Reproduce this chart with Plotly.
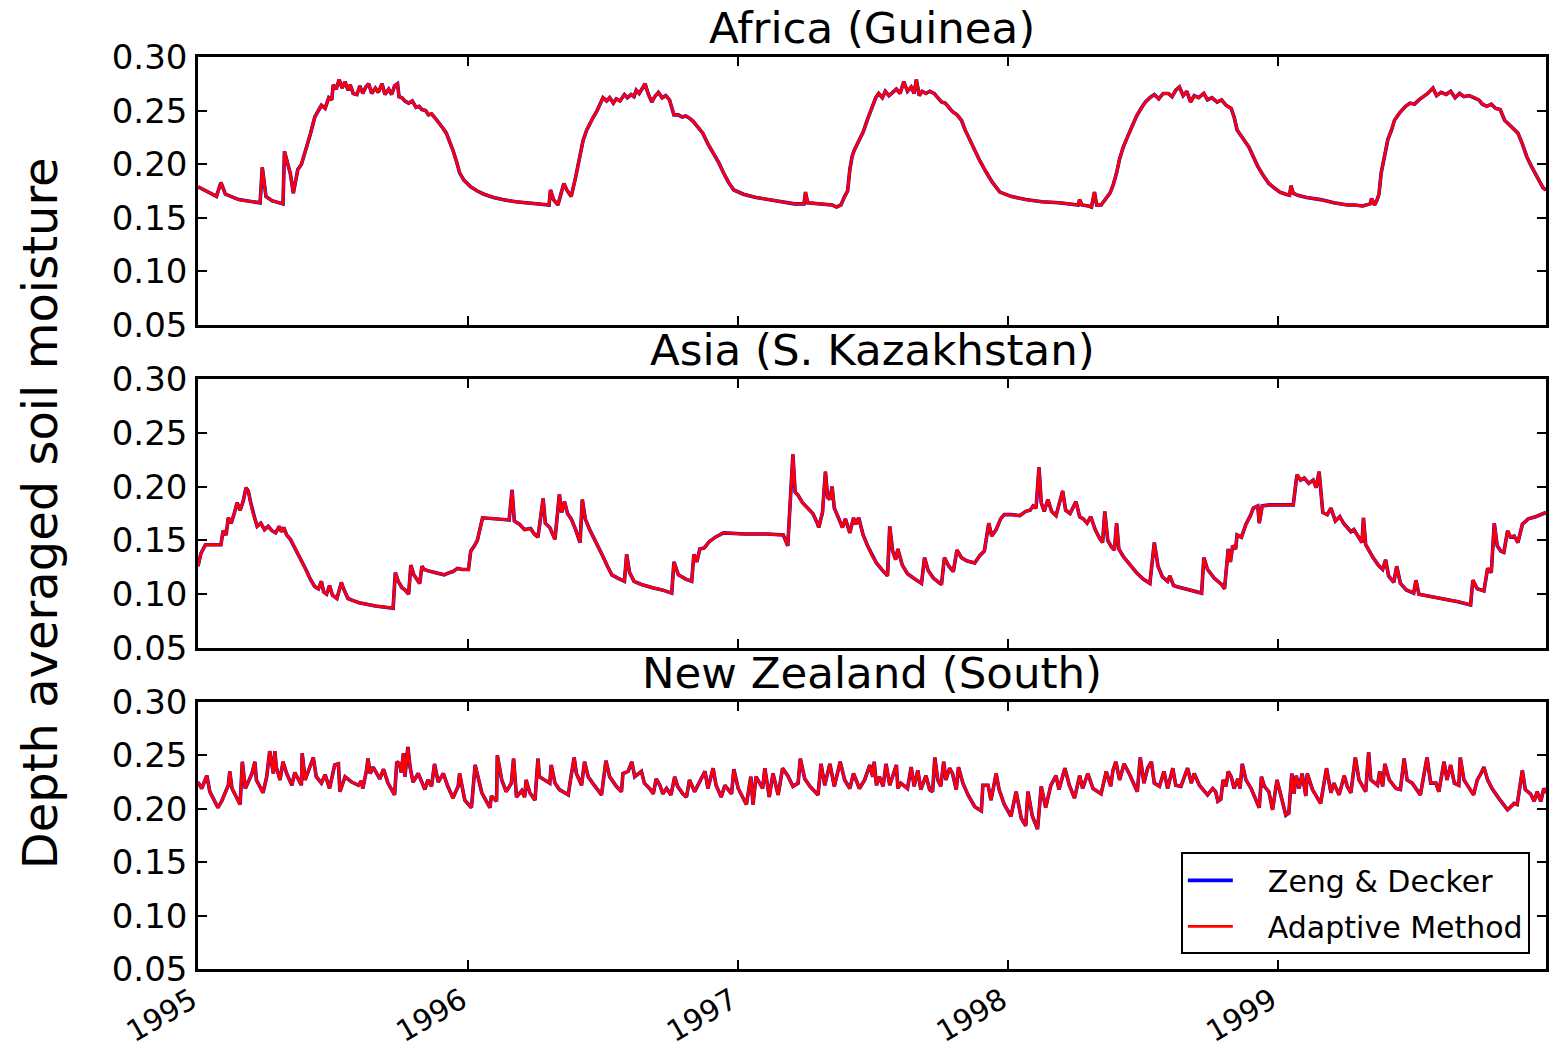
import pandas as pd
import plotly.graph_objects as go
from plotly.subplots import make_subplots

# Day offsets from 1995-01-01 and depth averaged soil moisture for each region
AFRICA_DAY = [0, 12, 25, 31, 37, 55, 84, 87, 92, 100, 115, 117, 121, 125, 129, 135, 140, 146, 152, 158,
              163, 167, 172, 177, 181, 183, 187, 191, 195, 199, 203, 206, 210, 215, 219, 223, 227, 231, 235, 240,
              244, 249, 253, 258, 262, 266, 270, 272, 276, 280, 285, 290, 295, 299, 303, 308, 312, 316, 321, 326,
              331, 336, 340, 345, 350, 354, 360, 369, 378, 387, 400, 412, 430, 448, 465, 475, 477, 481, 487, 495,
              499, 505, 511, 517, 521, 526, 530, 535, 540, 544, 548, 553, 557, 562, 566, 571, 577, 581, 586, 590,
              593, 597, 601, 605, 609, 612, 614, 618, 623, 628, 633, 638, 641, 644, 650, 655, 660, 665, 670, 675,
              680, 683, 690, 698, 705, 711, 718, 725, 731, 738, 755, 774, 790, 807, 820, 822, 825, 840, 850, 858,
              864, 870, 875, 879, 882, 885, 888, 894, 900, 906, 912, 917, 921, 926, 930, 935, 940, 945, 950, 955,
              960, 965, 969, 972, 976, 980, 985, 990, 996, 1000, 1006, 1011, 1016, 1021, 1027, 1033, 1038, 1044, 1051, 1058,
              1067, 1075, 1085, 1092, 1100, 1120, 1142, 1165, 1191, 1193, 1196, 1205, 1209, 1213, 1216, 1222, 1228, 1234, 1238, 1243,
              1247, 1252, 1258, 1264, 1270, 1276, 1282, 1288, 1294, 1300, 1306, 1313, 1318, 1323, 1328, 1333, 1338, 1343, 1348, 1354,
              1361, 1366, 1372, 1379, 1385, 1391, 1398, 1402, 1406, 1414, 1422, 1428, 1434, 1441, 1449, 1456, 1464, 1472, 1477, 1479,
              1482, 1488, 1500, 1519, 1537, 1555, 1565, 1576, 1586, 1588, 1592, 1595, 1598, 1601, 1605, 1610, 1615, 1619, 1626, 1634,
              1640, 1646, 1652, 1658, 1664, 1671, 1676, 1682, 1689, 1695, 1701, 1707, 1713, 1720, 1728, 1733, 1738, 1744, 1750, 1756,
              1762, 1768, 1774, 1780, 1786, 1792, 1798, 1805, 1812, 1820, 1824]
AFRICA_SM = [0.179, 0.175, 0.170, 0.183, 0.172, 0.167, 0.164, 0.197, 0.170, 0.166, 0.163, 0.212, 0.200, 0.191, 0.173, 0.195, 0.200, 0.213, 0.228, 0.244,
             0.250, 0.255, 0.252, 0.262, 0.260, 0.274, 0.270, 0.279, 0.271, 0.277, 0.269, 0.274, 0.266, 0.265, 0.273, 0.266, 0.272, 0.275, 0.266, 0.271,
             0.267, 0.275, 0.265, 0.270, 0.265, 0.273, 0.275, 0.263, 0.262, 0.259, 0.257, 0.259, 0.253, 0.254, 0.251, 0.250, 0.246, 0.247, 0.243, 0.239,
             0.234, 0.229, 0.222, 0.213, 0.202, 0.192, 0.185, 0.179, 0.175, 0.172, 0.169, 0.167, 0.165, 0.164, 0.163, 0.162, 0.176, 0.167, 0.162, 0.182,
             0.176, 0.170, 0.188, 0.207, 0.222, 0.232, 0.238, 0.244, 0.250, 0.256, 0.262, 0.259, 0.262, 0.257, 0.261, 0.259, 0.265, 0.262, 0.265, 0.263,
             0.269, 0.266, 0.270, 0.275, 0.266, 0.262, 0.258, 0.263, 0.267, 0.262, 0.264, 0.260, 0.252, 0.246, 0.246, 0.244, 0.245, 0.243, 0.240, 0.236,
             0.232, 0.229, 0.219, 0.210, 0.201, 0.192, 0.183, 0.176, 0.174, 0.172, 0.169, 0.167, 0.165, 0.163, 0.163, 0.174, 0.164, 0.163, 0.162, 0.162,
             0.160, 0.162, 0.170, 0.175, 0.195, 0.207, 0.213, 0.222, 0.230, 0.242, 0.254, 0.262, 0.266, 0.262, 0.268, 0.264, 0.267, 0.270, 0.266, 0.277,
             0.268, 0.272, 0.266, 0.279, 0.264, 0.268, 0.266, 0.268, 0.266, 0.263, 0.258, 0.257, 0.253, 0.249, 0.246, 0.241, 0.232, 0.223, 0.213, 0.203,
             0.192, 0.183, 0.174, 0.172, 0.170, 0.167, 0.165, 0.164, 0.162, 0.167, 0.162, 0.161, 0.160, 0.174, 0.162, 0.162, 0.167, 0.173, 0.180, 0.192,
             0.205, 0.216, 0.226, 0.235, 0.245, 0.252, 0.258, 0.262, 0.265, 0.261, 0.266, 0.266, 0.263, 0.269, 0.272, 0.264, 0.268, 0.258, 0.264, 0.262,
             0.266, 0.260, 0.262, 0.258, 0.260, 0.255, 0.252, 0.244, 0.232, 0.224, 0.216, 0.207, 0.198, 0.190, 0.182, 0.178, 0.174, 0.172, 0.171, 0.180,
             0.173, 0.171, 0.169, 0.167, 0.164, 0.162, 0.162, 0.161, 0.163, 0.168, 0.162, 0.166, 0.172, 0.192, 0.205, 0.223, 0.232, 0.241, 0.248, 0.254,
             0.257, 0.256, 0.260, 0.263, 0.266, 0.271, 0.264, 0.267, 0.265, 0.268, 0.262, 0.266, 0.263, 0.264, 0.262, 0.260, 0.256, 0.254, 0.256, 0.252,
             0.251, 0.241, 0.237, 0.233, 0.229, 0.219, 0.207, 0.197, 0.188, 0.178, 0.176]

ASIA_DAY = [0, 4, 10, 31, 34, 38, 41, 45, 49, 53, 57, 61, 65, 68, 71, 74, 77, 80, 85, 90,
            95, 100, 105, 110, 113, 116, 120, 125, 132, 139, 146, 152, 158, 163, 167, 170, 174, 178, 182, 188,
            194, 197, 203, 210, 218, 240, 264, 267, 271, 276, 280, 285, 288, 292, 296, 300, 303, 306, 315, 325,
            333, 340, 345, 351, 358, 366, 369, 374, 378, 385, 400, 421, 425, 428, 435, 442, 450, 455, 460, 467,
            470, 476, 483, 489, 492, 496, 500, 505, 511, 517, 520, 524, 530, 536, 541, 548, 554, 560, 568, 577,
            580, 584, 590, 600, 615, 628, 641, 644, 650, 660, 668, 671, 675, 679, 685, 692, 700, 711, 740, 770,
            792, 798, 805, 808, 812, 818, 825, 832, 838, 840, 845, 849, 852, 855, 858, 861, 866, 872, 876, 882,
            887, 890, 894, 900, 906, 912, 918, 925, 933, 936, 940, 944, 947, 953, 960, 968, 979, 983, 988, 995,
            1006, 1010, 1016, 1022, 1027, 1033, 1040, 1046, 1051, 1058, 1064, 1070, 1074, 1080, 1086, 1091, 1100, 1112, 1120, 1126,
            1130, 1134, 1138, 1141, 1145, 1150, 1155, 1161, 1170, 1174, 1180, 1188, 1193, 1198, 1203, 1208, 1214, 1220, 1224, 1227,
            1231, 1236, 1240, 1243, 1246, 1252, 1260, 1265, 1270, 1279, 1288, 1294, 1299, 1305, 1312, 1315, 1320, 1325, 1340, 1358,
            1361, 1366, 1375, 1385, 1389, 1394, 1397, 1400, 1404, 1406, 1412, 1418, 1424, 1428, 1434, 1436, 1440, 1450, 1465, 1482,
            1487, 1492, 1497, 1503, 1509, 1513, 1517, 1522, 1528, 1533, 1539, 1545, 1550, 1555, 1560, 1564, 1570, 1575, 1577, 1580,
            1590, 1597, 1603, 1607, 1611, 1618, 1622, 1627, 1635, 1645, 1648, 1652, 1659, 1675, 1689, 1705, 1722, 1725, 1731, 1740,
            1745, 1750, 1754, 1758, 1763, 1767, 1772, 1776, 1781, 1786, 1792, 1800, 1810, 1820, 1824]
ASIA_SM = [0.126, 0.138, 0.146, 0.146, 0.159, 0.155, 0.171, 0.166, 0.175, 0.185, 0.178, 0.186, 0.199, 0.196, 0.186, 0.176, 0.170, 0.163, 0.166, 0.160,
           0.163, 0.159, 0.157, 0.163, 0.158, 0.162, 0.155, 0.151, 0.142, 0.132, 0.123, 0.114, 0.107, 0.105, 0.112, 0.102, 0.100, 0.108, 0.099, 0.096,
           0.111, 0.105, 0.096, 0.094, 0.092, 0.089, 0.087, 0.120, 0.112, 0.106, 0.104, 0.100, 0.127, 0.118, 0.114, 0.110, 0.126, 0.123, 0.121, 0.119,
           0.118, 0.120, 0.121, 0.124, 0.123, 0.123, 0.140, 0.145, 0.150, 0.171, 0.170, 0.169, 0.197, 0.168, 0.165, 0.160, 0.161, 0.156, 0.153, 0.189,
           0.166, 0.162, 0.151, 0.193, 0.176, 0.186, 0.175, 0.170, 0.160, 0.148, 0.188, 0.170, 0.160, 0.152, 0.145, 0.135, 0.126, 0.118, 0.115, 0.112,
           0.137, 0.120, 0.112, 0.109, 0.106, 0.104, 0.101, 0.130, 0.118, 0.114, 0.112, 0.137, 0.130, 0.142, 0.143, 0.149, 0.153, 0.157, 0.156, 0.156,
           0.155, 0.145, 0.230, 0.195, 0.192, 0.185, 0.180, 0.175, 0.166, 0.162, 0.176, 0.214, 0.190, 0.188, 0.200, 0.180, 0.172, 0.162, 0.170, 0.157,
           0.171, 0.165, 0.171, 0.155, 0.145, 0.136, 0.129, 0.123, 0.117, 0.163, 0.140, 0.132, 0.142, 0.127, 0.119, 0.115, 0.110, 0.134, 0.122, 0.115,
           0.109, 0.134, 0.126, 0.121, 0.141, 0.134, 0.131, 0.130, 0.129, 0.136, 0.140, 0.166, 0.154, 0.160, 0.170, 0.174, 0.174, 0.173, 0.177, 0.178,
           0.182, 0.180, 0.218, 0.185, 0.177, 0.188, 0.177, 0.173, 0.196, 0.178, 0.175, 0.186, 0.172, 0.170, 0.166, 0.172, 0.160, 0.152, 0.148, 0.177,
           0.150, 0.144, 0.141, 0.166, 0.142, 0.135, 0.128, 0.124, 0.120, 0.114, 0.110, 0.148, 0.126, 0.116, 0.112, 0.117, 0.108, 0.107, 0.104, 0.101,
           0.134, 0.123, 0.115, 0.109, 0.105, 0.142, 0.130, 0.145, 0.142, 0.155, 0.153, 0.165, 0.173, 0.180, 0.182, 0.166, 0.182, 0.183, 0.183, 0.183,
           0.211, 0.206, 0.208, 0.203, 0.206, 0.199, 0.214, 0.176, 0.174, 0.180, 0.168, 0.172, 0.166, 0.162, 0.158, 0.160, 0.153, 0.148, 0.171, 0.146,
           0.134, 0.127, 0.123, 0.132, 0.117, 0.111, 0.126, 0.110, 0.104, 0.101, 0.113, 0.100, 0.099, 0.097, 0.095, 0.093, 0.090, 0.113, 0.105, 0.103,
           0.124, 0.120, 0.166, 0.145, 0.140, 0.139, 0.159, 0.153, 0.154, 0.148, 0.165, 0.170, 0.172, 0.175, 0.176]

NZ_DAY = [0, 5, 12, 16, 27, 32, 41, 43, 46, 57, 60, 64, 73, 77, 79, 88, 93, 97, 102, 104,
          106, 111, 115, 120, 127, 131, 140, 141, 145, 151, 156, 160, 167, 172, 178, 185, 190, 192, 199, 208,
          217, 221, 223, 228, 230, 233, 237, 242, 246, 251, 257, 266, 269, 273, 275, 278, 280, 284, 287, 291,
          298, 307, 311, 316, 320, 325, 332, 338, 345, 352, 354, 361, 370, 375, 384, 395, 397, 404, 405, 411,
          417, 424, 427, 431, 438, 442, 444, 449, 456, 460, 462, 469, 476, 478, 483, 489, 501, 504, 509, 512,
          519, 523, 528, 534, 546, 552, 557, 566, 573, 575, 582, 587, 591, 600, 604, 611, 616, 620, 625, 629,
          634, 640, 645, 649, 656, 661, 665, 672, 679, 686, 690, 697, 701, 708, 713, 722, 725, 731, 742, 748,
          751, 755, 764, 767, 773, 778, 785, 791, 798, 805, 812, 815, 821, 828, 839, 843, 848, 855, 861, 869,
          875, 882, 887, 895, 902, 909, 913, 915, 918, 922, 927, 931, 936, 940, 945, 947, 951, 960, 965, 969,
          974, 978, 985, 990, 994, 997, 1001, 1005, 1009, 1012, 1017, 1021, 1026, 1029, 1035, 1042, 1051, 1060, 1062, 1069,
          1073, 1080, 1084, 1091, 1100, 1107, 1114, 1120, 1123, 1129, 1136, 1141, 1147, 1154, 1161, 1165, 1173, 1179, 1186, 1193,
          1197, 1204, 1211, 1222, 1229, 1235, 1238, 1242, 1247, 1253, 1260, 1271, 1275, 1280, 1285, 1290, 1294, 1301, 1307, 1312,
          1319, 1323, 1330, 1339, 1344, 1348, 1355, 1366, 1373, 1377, 1380, 1384, 1387, 1391, 1394, 1398, 1402, 1407, 1410, 1413,
          1418, 1425, 1436, 1439, 1443, 1449, 1454, 1460, 1465, 1472, 1476, 1480, 1483, 1486, 1490, 1494, 1499, 1501, 1508, 1519,
          1527, 1533, 1537, 1544, 1551, 1555, 1560, 1566, 1571, 1580, 1584, 1587, 1596, 1599, 1603, 1606, 1612, 1621, 1627, 1632,
          1636, 1643, 1654, 1663, 1668, 1675, 1679, 1686, 1690, 1695, 1700, 1706, 1708, 1713, 1726, 1731, 1736, 1740, 1745, 1751,
          1760, 1772, 1781, 1785, 1792, 1796, 1803, 1808, 1812, 1817, 1821, 1825]
NZ_SM = [0.225, 0.219, 0.231, 0.216, 0.201, 0.207, 0.222, 0.235, 0.219, 0.204, 0.244, 0.219, 0.233, 0.244, 0.227, 0.215, 0.230, 0.254, 0.233, 0.254,
         0.239, 0.227, 0.244, 0.233, 0.222, 0.234, 0.222, 0.252, 0.227, 0.239, 0.248, 0.230, 0.224, 0.232, 0.219, 0.241, 0.242, 0.216, 0.230, 0.225,
         0.222, 0.226, 0.219, 0.236, 0.247, 0.233, 0.239, 0.233, 0.228, 0.237, 0.224, 0.213, 0.244, 0.242, 0.234, 0.252, 0.230, 0.258, 0.239, 0.225,
         0.233, 0.218, 0.227, 0.221, 0.242, 0.225, 0.233, 0.221, 0.210, 0.221, 0.233, 0.208, 0.201, 0.241, 0.215, 0.201, 0.212, 0.207, 0.250, 0.227,
         0.216, 0.224, 0.247, 0.211, 0.217, 0.211, 0.227, 0.215, 0.208, 0.247, 0.230, 0.227, 0.224, 0.241, 0.224, 0.218, 0.213, 0.227, 0.248, 0.233,
         0.222, 0.244, 0.230, 0.224, 0.213, 0.245, 0.230, 0.221, 0.216, 0.233, 0.235, 0.244, 0.230, 0.235, 0.224, 0.219, 0.214, 0.228, 0.222, 0.214,
         0.219, 0.213, 0.230, 0.221, 0.214, 0.211, 0.227, 0.216, 0.225, 0.235, 0.219, 0.238, 0.222, 0.211, 0.222, 0.214, 0.237, 0.219, 0.204, 0.230,
         0.204, 0.230, 0.219, 0.238, 0.211, 0.233, 0.213, 0.238, 0.231, 0.221, 0.224, 0.247, 0.228, 0.221, 0.213, 0.242, 0.222, 0.242, 0.221, 0.244,
         0.227, 0.219, 0.233, 0.219, 0.227, 0.241, 0.230, 0.244, 0.222, 0.230, 0.221, 0.242, 0.222, 0.230, 0.241, 0.219, 0.224, 0.219, 0.239, 0.221,
         0.236, 0.218, 0.231, 0.218, 0.216, 0.248, 0.227, 0.221, 0.244, 0.227, 0.238, 0.233, 0.218, 0.239, 0.224, 0.213, 0.202, 0.198, 0.222, 0.222,
         0.208, 0.233, 0.218, 0.204, 0.193, 0.216, 0.191, 0.184, 0.216, 0.193, 0.181, 0.221, 0.201, 0.222, 0.231, 0.218, 0.238, 0.222, 0.210, 0.231,
         0.219, 0.233, 0.219, 0.214, 0.235, 0.221, 0.236, 0.244, 0.227, 0.242, 0.233, 0.216, 0.248, 0.224, 0.238, 0.244, 0.224, 0.221, 0.235, 0.219,
         0.238, 0.222, 0.221, 0.238, 0.224, 0.233, 0.222, 0.213, 0.219, 0.216, 0.207, 0.209, 0.227, 0.221, 0.235, 0.230, 0.219, 0.228, 0.219, 0.242,
         0.227, 0.219, 0.201, 0.230, 0.221, 0.216, 0.199, 0.227, 0.212, 0.194, 0.196, 0.233, 0.214, 0.231, 0.219, 0.233, 0.212, 0.233, 0.218, 0.205,
         0.238, 0.215, 0.224, 0.213, 0.231, 0.221, 0.215, 0.248, 0.227, 0.216, 0.253, 0.227, 0.222, 0.235, 0.221, 0.242, 0.227, 0.219, 0.218, 0.247,
         0.227, 0.224, 0.213, 0.248, 0.224, 0.224, 0.216, 0.244, 0.227, 0.241, 0.224, 0.222, 0.248, 0.227, 0.213, 0.227, 0.233, 0.239, 0.227, 0.219,
         0.210, 0.199, 0.205, 0.204, 0.236, 0.218, 0.214, 0.207, 0.216, 0.207, 0.219, 0.215]

REGIONS = ["Africa (Guinea)", "Asia (S. Kazakhstan)", "New Zealand (South)"]
YEAR_TICKS = ["1995", "1996", "1997", "1998", "1999"]
Y_TICKS = [0.05, 0.10, 0.15, 0.20, 0.25, 0.30]
METHODS = ["Zeng & Decker", "Adaptive Method"]

START = pd.Timestamp("1995-01-01")


def to_dates(days):
    return START + pd.to_timedelta(days, unit="D")


series = [(AFRICA_DAY, AFRICA_SM), (ASIA_DAY, ASIA_SM), (NZ_DAY, NZ_SM)]

FONT = "DejaVu Sans"
GAP = "\u2002\u2002"  # space between the legend line sample and its label
fig = make_subplots(rows=3, cols=1, shared_xaxes=True, subplot_titles=REGIONS)

for i, (days, sm) in enumerate(series, start=1):
    dates = to_dates(days)
    fig.add_trace(go.Scatter(x=dates, y=sm, mode="lines", name=GAP + METHODS[0],
                             line=dict(color="#0000ff", width=3.6),
                             showlegend=(i == 1), legendgroup="zd"), row=i, col=1)
    fig.add_trace(go.Scatter(x=dates, y=sm, mode="lines", name=GAP + METHODS[1],
                             line=dict(color="#ff0000", width=2.9),
                             showlegend=(i == 1), legendgroup="am"), row=i, col=1)

# panel placement (paper fractions of the plotting area)
domains = [(0.7061, 1.0), (0.3520, 0.6469), (0.0, 0.2928)]
year_dates = [f"{y}-01-01" for y in YEAR_TICKS]
for i, dom in enumerate(domains, start=1):
    fig.update_yaxes(row=i, col=1, domain=list(dom), range=[0.05, 0.30],
                     tickvals=Y_TICKS, tickformat=".2f", ticks="inside", ticklen=9,
                     tickwidth=1.5, tickcolor="black", showline=True, linewidth=2.5,
                     linecolor="black", mirror="allticks", showgrid=False, zeroline=False,
                     tickfont=dict(family=FONT, size=34, color="black"),
                     ticklabelstandoff=1, automargin=False)
    fig.update_xaxes(row=i, col=1, type="date", range=["1995-01-01", "1999-12-30"],
                     tickvals=year_dates, ticktext=YEAR_TICKS, ticks="inside", ticklen=9,
                     tickwidth=1.5, tickcolor="black", showline=True, linewidth=2.5,
                     linecolor="black", mirror="allticks", showgrid=False, zeroline=False,
                     showticklabels=(i == 3), tickangle=-30, ticklabelshift=-6,
                     ticklabelstandoff=0,
                     tickfont=dict(family=FONT, size=29.5, color="black"), automargin=False)

# region titles sit just above each panel
for ann, dom in zip(fig.layout.annotations, domains):
    ann.y = dom[1]
    ann.yanchor = "bottom"
    ann.yshift = 2
    ann.font = dict(family=FONT, size=43.5, color="black")

fig.add_annotation(text="Depth averaged soil moisture", textangle=-90,
                   xref="paper", yref="paper", x=-0.117, y=0.50,
                   xanchor="center", yanchor="middle", showarrow=False,
                   font=dict(family=FONT, size=48, color="black"))

fig.update_layout(
    width=1554, height=1049,
    margin=dict(l=198, r=8, t=57, b=80),
    paper_bgcolor="white", plot_bgcolor="white",
    legend=dict(x=0.988, y=0.016, xanchor="right", yanchor="bottom",
                bgcolor="white", bordercolor="black", borderwidth=2,
                font=dict(family=FONT, size=30, color="black"),
                itemwidth=45, tracegroupgap=4),
)

fig.write_html("out.html")
